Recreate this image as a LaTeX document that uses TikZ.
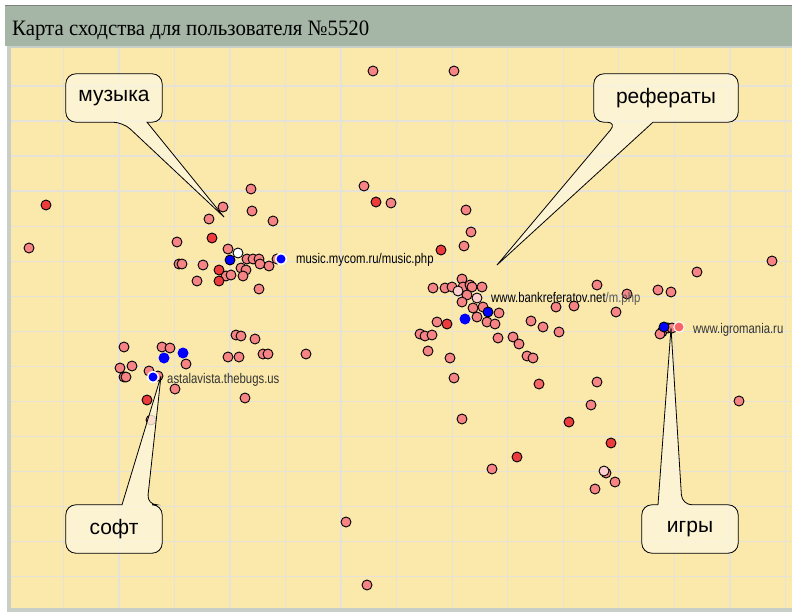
\documentclass[tikz,border=0pt]{standalone}
\usepackage{fontspec}
\setmainfont{Liberation Serif}
\setsansfont{Liberation Sans}
\usepackage{graphicx}

\definecolor{hatter}{RGB}{250,233,170}
\definecolor{racs}{RGB}{230,226,216}
\definecolor{fejlec}{RGB}{166,182,166}
\definecolor{keret}{RGB}{200,206,200}
\definecolor{lazac}{RGB}{246,132,132}
\definecolor{kozep}{RGB}{250,100,100}
\definecolor{piros}{RGB}{238,60,60}
\definecolor{rozsa}{RGB}{255,206,206}
\definecolor{kek}{RGB}{0,0,255}
\definecolor{buborek}{RGB}{253,246,222}

\pgfdeclarelayer{elol}
\pgfsetlayers{main,elol}

\tikzset{
  pont/.style={fill=lazac, draw=black, line width=0.9pt},
  buborekszoveg/.style={font=\sffamily\fontsize{21}{21}\selectfont, inner sep=0pt,
    minimum width=96pt, minimum height=48pt},
  buborekvonal/.style={fill=buborek, fill opacity=0.8, draw=black, line width=0.8pt},
  oldal/.style={font=\sffamily\fontsize{14}{14}\selectfont, inner sep=0pt, anchor=base west}
}

\begin{document}
\begin{tikzpicture}[x=1pt,y=-1pt]
  \useasboundingbox (0,0) rectangle (792,612);
  % háttér
  \fill[white] (0,0) rectangle (792,612);
  \fill[fejlec] (5,6) rectangle (792,46);
  \draw[gray, line width=1pt] (5,6) -- (792,6);
  \fill[keret] (7,46) rectangle (792,612);
  \fill[hatter] (11,48) rectangle (792,608);
  \node[anchor=base west, inner sep=0pt, font=\fontsize{22}{22}\selectfont] (cim) at (12,36)
    {\scalebox{0.947}[1]{Карта сходства для пользователя №5520}};

  % rácsvonalak
  \foreach \i in {0,...,13}
    \draw[racs, line width=1.3pt] (63.3+55.55*\i,48) -- (63.3+55.55*\i,608);
  \foreach \j in {0,...,14}
    \draw[racs, line width=1.3pt] (11,86+35.05*\j) -- (792,86+35.05*\j);

  % pontok
  \foreach \x/\y in {373/71, 454/71, 29/248,
      251/189, 223/207, 209/219, 252/211, 273/221, 177/242, 228/249, 179/264, 182/264,
      203/265, 197/281, 226/276, 231/275, 241/268, 246/270, 247/259, 253/259, 259/259,
      260/264, 269/266, 277/259, 259/289, 243/276,
      364/186, 391/203, 466/210, 471/232, 464/246,
      433/288, 445/288, 452/287, 462/279, 463/287, 470/285, 472/287, 482/287, 467/295,
      462/302, 473/308, 483/307, 499/313, 487/322, 495/324, 477/317, 437/322, 420/334,
      425/336, 432/335, 428/351, 450/358, 498/338, 513/337, 519/344, 527/356, 533/358,
      531/321, 543/327, 559/332, 556/307, 574/306, 597/285, 627/294, 616/312, 658/290,
      671/292, 697/272, 772/261,
      662/332, 660/334, 668/328, 672/328,
      454/378, 597/382, 591/405, 739/401, 462/419, 492/469, 615/482, 595/489, 606/473,
      346/522, 367/585,
      236/335, 241/336, 255/339, 124/347, 162/347, 170/348, 186/364, 228/357, 239/357,
      263/354, 268/354, 306/354, 120/368, 132/366, 124/377, 126/377, 149/371, 158/376,
      175/389, 245/398, 151/420}
    \filldraw[pont] (\x,\y) circle (5pt);
  \filldraw[pont, fill=kozep] (539,384) circle (5pt);
  \foreach \x/\y in {46/205, 212/238, 219/270, 219/281, 376/202, 441/250, 447/324,
      147/400, 569/422, 611/443, 517/457}
    \filldraw[pont, fill=piros] (\x,\y) circle (5pt);
  \foreach \x/\y in {458/291, 477/298, 604/471}
    \filldraw[pont, fill=rozsa] (\x,\y) circle (5pt);
  \filldraw[pont, fill=white] (238,253) circle (5pt);
  \filldraw[white] (679,327) circle (5.5pt);
  \fill[kozep] (679,327) circle (4.5pt);
  % kék pontok
  \foreach \x/\y in {230/260, 488/312, 664/327}
    \filldraw[pont, fill=kek] (\x,\y) circle (5pt);
  \foreach \x/\y in {164/358, 183/353, 465/319}
    \fill[kek] (\x,\y) circle (5.5pt);
  \foreach \x/\y in {281/259, 153/377} {
    \fill[white] (\x,\y) circle (6pt);
    \fill[kek] (\x,\y) circle (4.5pt);
  }

  % oldalak
  \node[oldal] (zene) at (296,264) {\scalebox{0.81}[1]{music.mycom.ru/music.php}};
  \node[oldal] (bank) at (491,302)
    {\scalebox{0.81}[1]{www.bankreferatov.net\textcolor{black!65}{/m.php}}};
  \node[oldal, text=black!80] (asta) at (167,383) {\scalebox{0.81}[1]{astalavista.thebugs.us}};
  \node[oldal, text=black!80] (igro) at (693,333) {\scalebox{0.81}[1]{www.igromania.ru}};

  % buborékok
  \coordinate (mhegy) at (224,217);
  \coordinate (rhegy) at (497,265);
  \coordinate (shegy) at (161,376);
  \coordinate (ihegy) at (671,328);

  \begin{pgfonlayer}{elol}
    \node[buborekszoveg] (muz) at (114,98) {музыка};
    \node[buborekszoveg, minimum width=144pt] (ref) at (666,98) {рефераты};
    \node[buborekszoveg] (soft) at (114,529) {софт};
    \node[buborekszoveg] (igry) at (690,529) {игры};
  \end{pgfonlayer}

  \draw[buborekvonal] (muz.north) [rounded corners=10pt] -- (muz.north west) -- (muz.south west)
    -- ([xshift=9pt]muz.south) [sharp corners] -- (mhegy) -- ([xshift=33pt]muz.south)
    [rounded corners=10pt] -- (muz.south east) -- (muz.north east) -- cycle;
  \draw[buborekvonal] (ref.north) [rounded corners=10pt] -- (ref.north west) -- (ref.south west)
    -- ([xshift=-49pt]ref.south) [sharp corners] -- (rhegy) -- ([xshift=-13pt]ref.south)
    [rounded corners=10pt] -- (ref.south east) -- (ref.north east) -- cycle;
  \draw[buborekvonal] (soft.south) [rounded corners=10pt] -- (soft.south east) -- (soft.north east)
    -- ([xshift=33pt]soft.north) [sharp corners] -- (shegy) -- ([xshift=8pt]soft.north)
    [rounded corners=10pt] -- (soft.north west) -- (soft.south west) -- cycle;
  \draw[buborekvonal] (igry.south) [rounded corners=10pt] -- (igry.south east) -- (igry.north east)
    -- ([xshift=-8pt]igry.north) [sharp corners] -- (ihegy) -- ([xshift=-32pt]igry.north)
    [rounded corners=10pt] -- (igry.north west) -- (igry.south west) -- cycle;
\end{tikzpicture}
\end{document}
